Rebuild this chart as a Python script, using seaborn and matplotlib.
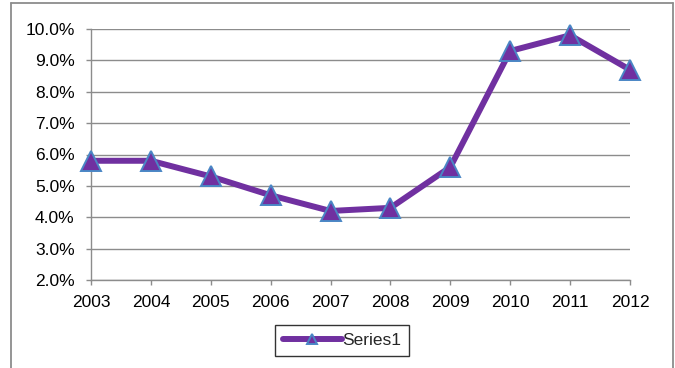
import matplotlib
matplotlib.use("Agg")
import matplotlib.pyplot as plt
from matplotlib.lines import Line2D
from matplotlib.ticker import FuncFormatter
import seaborn as sns
import pandas as pd

years = [2003, 2004, 2005, 2006, 2007, 2008, 2009, 2010, 2011, 2012]
rates = [5.8, 5.8, 5.3, 4.7, 4.2, 4.3, 5.6, 9.3, 9.8, 8.7]
series_name = "Series1"
y_ticks = [2, 3, 4, 5, 6, 7, 8, 9, 10]

sns.set_theme(style="white")
plt.rcParams["font.family"] = ["Liberation Sans", "DejaVu Sans"]

df = pd.DataFrame({"year": years, "rate": rates, "series": series_name})

fig = plt.figure(figsize=(6.75, 3.68), dpi=100)
ax = fig.add_axes([91 / 675, 1 - 280 / 368, (630 - 91) / 675, (280 - 29) / 368])

grid_color = "#8c8c8c"
purple = "#7030a0"

sns.lineplot(data=df, x="year", y="rate", hue="series", palette=[purple],
             marker="^", markersize=15, markerfacecolor=purple,
             markeredgecolor="#4a86c5", markeredgewidth=1.4,
             linewidth=4.3, ax=ax, zorder=3, clip_on=False)

ax.set_xlim(years[0], years[-1])
ax.set_ylim(y_ticks[0], y_ticks[-1])
ax.set_xticks(years)
ax.set_yticks(y_ticks)
ax.yaxis.set_major_formatter(FuncFormatter(lambda v, p: f"{v:.1f}%"))
ax.set_xlabel("")
ax.set_ylabel("")

ax.grid(axis="y", color=grid_color, linewidth=1.0)
ax.grid(axis="x", visible=False)
ax.set_axisbelow(True)
for side in ["top", "right"]:
    ax.spines[side].set_visible(False)
for side in ["left", "bottom"]:
    ax.spines[side].set_color(grid_color)
    ax.spines[side].set_linewidth(1.0)

ax.tick_params(axis="both", which="major", direction="out", length=3.8,
               width=1.0, color=grid_color, labelsize=12.5,
               labelcolor="black", left=True, bottom=True)
ax.tick_params(axis="y", pad=8)
ax.tick_params(axis="x", pad=7)

handles, labels = ax.get_legend_handles_labels()
ax.legend_.remove()
leg = fig.legend(handles, labels, loc="center", bbox_to_anchor=(342 / 675, 1 - 340.5 / 368),
                 frameon=True, fancybox=False, edgecolor="black", fontsize=12.5,
                 handlelength=3.4, handletextpad=0.05, borderpad=0.45, markerscale=0.5)
leg.get_frame().set_linewidth(1.0)

# outer chart frame (open at the bottom)
fx0, fx1, fy1 = 11 / 675, 673 / 675, 1 - 3 / 368
frame_kw = dict(color="#8c8c8c", linewidth=1.3, transform=fig.transFigure)
fig.add_artist(Line2D([fx0, fx0], [0, fy1], **frame_kw))
fig.add_artist(Line2D([fx0, fx1], [fy1, fy1], **frame_kw))
fig.add_artist(Line2D([fx1, fx1], [fy1, 0], **frame_kw))

fig.savefig("out.png", dpi=100)
